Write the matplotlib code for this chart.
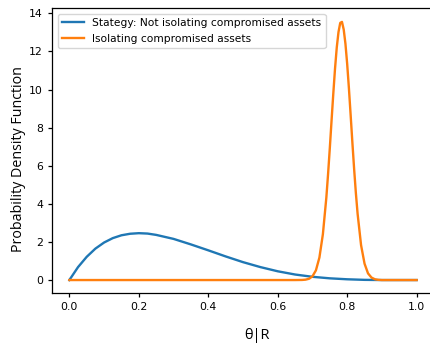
import matplotlib
matplotlib.use("Agg")
import matplotlib.pyplot as plt

# Blue curve: strategy not isolating compromised assets
blue_x = [0.0, 0.025, 0.05, 0.075, 0.1, 0.125, 0.15, 0.175, 0.2, 0.225, 0.25, 0.3, 0.35,
          0.4, 0.45, 0.5, 0.55, 0.6, 0.65, 0.7, 0.75, 0.8, 0.85, 0.9, 0.95, 1.0]
blue_y = [0.0, 0.68, 1.22, 1.65, 1.97, 2.20, 2.35, 2.43, 2.46, 2.44, 2.37, 2.16, 1.87,
          1.56, 1.24, 0.94, 0.68, 0.46, 0.29, 0.17, 0.09, 0.04, 0.01, 0.0, 0.0, 0.0]

# Orange curve: isolating compromised assets
orange_x = [0.0, 0.60, 0.65, 0.67, 0.68, 0.69, 0.70, 0.71, 0.72, 0.73, 0.74, 0.745, 0.75,
            0.755, 0.76, 0.765, 0.77, 0.775, 0.78, 0.785, 0.79, 0.795, 0.80, 0.805, 0.81,
            0.815, 0.82, 0.825, 0.83, 0.84, 0.85, 0.86, 0.87, 0.88, 0.89, 0.90, 1.0]
orange_y = [0.0, 0.0, 0.0, 0.005, 0.02, 0.066, 0.195, 0.51, 1.18, 2.40, 4.33, 5.57, 6.93,
            8.37, 9.78, 11.10, 12.21, 13.02, 13.50, 13.55, 13.15, 12.40, 11.34, 10.06, 8.65,
            7.21, 5.83, 4.57, 3.48, 1.83, 0.86, 0.35, 0.13, 0.04, 0.01, 0.0, 0.0]

labels = ["Stategy: Not isolating compromised assets", "Isolating compromised assets"]
xticks = [0.0, 0.2, 0.4, 0.6, 0.8, 1.0]
yticks = [0, 2, 4, 6, 8, 10, 12, 14]

fig = plt.figure(figsize=(4.31, 3.47), dpi=100)
ax = fig.add_axes([52 / 431, 54 / 347, 382 / 431, 285 / 347])

ax.plot(blue_x, blue_y, color="#1f77b4", lw=1.7, label=labels[0])
ax.plot(orange_x, orange_y, color="#ff7f0e", lw=1.7, label=labels[1])

ax.set_xlim(-0.05, 1.05)
ax.set_ylim(-0.68, 14.28)
ax.set_xticks(xticks)
ax.set_yticks(yticks)
ax.set_xticklabels([f"{t:.1f}" for t in xticks])
ax.set_yticklabels([str(t) for t in yticks])
ax.tick_params(labelsize=7.8, length=3, width=0.9)
for s in ax.spines.values():
    s.set_linewidth(0.9)

ax.set_ylabel("Probability Density Function", family=["Open Sans", "DejaVu Sans"], fontsize=10.3)
ax.set_xlabel("θ|R", family=["Open Sans", "DejaVu Sans"], fontsize=10.5)
ax.xaxis.set_label_coords((256.7 - 52) / 382, -(328 - 293) / 285)
ax.yaxis.set_label_coords(-(52 - 26) / 382, (293 - 159) / 285)

ax.legend(loc="upper left", fontsize=7.7, borderaxespad=0.55)

fig.savefig("out.png", dpi=100)
